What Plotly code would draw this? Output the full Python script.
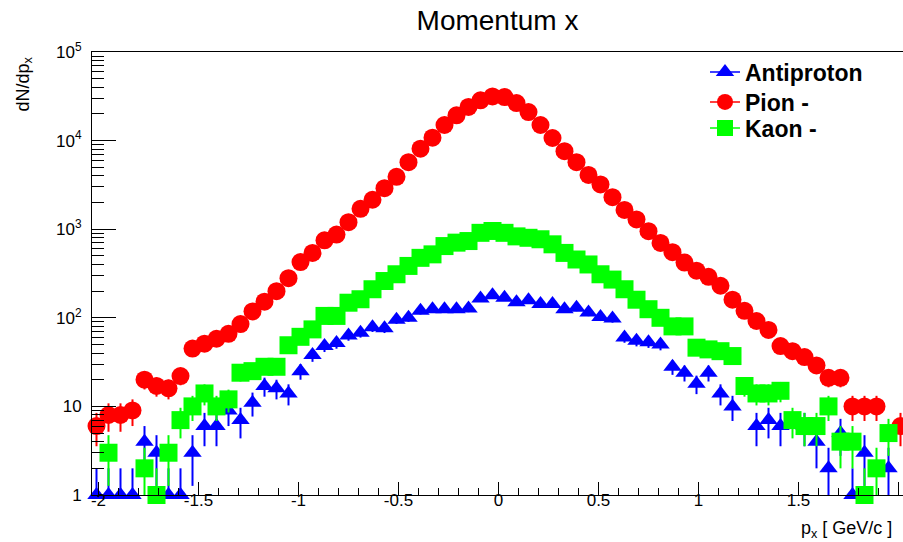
import numpy as np
import plotly.graph_objects as go

# Histogram binning (bin centres are derived from these)
bin_lo = -2.1
bin_width = 0.06
n_bins = 70

# Counts per bin (None = empty bin)
antiproton = [None, 1, 1, 1, 1, 4, 3, 1, 1, 3,
              6, 6, 9, 7, 11, 17, 16, 14, 25, 38,
              48, 52, 63, 68, 78, 76, 95, 100, 120, 125,
              125, 125, 127, 165, 180, 168, 150, 158, 143, 143,
              125, 130, 115, 102, 98, 60, 55, 53, 50, 28,
              24, 18, 24, 14, 10, None, 6, 7, 6, None,
              6, 4, 2, 5, 1, 3, None, 2, None, None]

pion_minus = [None, 6, 8, 8, 9, 20, 17, 16, 22, 45,
              51, 58, 66, 85, 118, 152, 200, 280, 425, 540,
              750, 870, 1200, 1700, 2150, 2900, 3900, 5700, 8100, 10800,
              15000, 19300, 24000, 28500, 31500, 31000, 26500, 21000, 15000, 10700,
              7600, 5700, 4100, 3200, 2300, 1650, 1290, 950, 700, 550,
              420, 340, 290, 230, 160, 120, 92, 73, 48, 42,
              36, 29, 21, 21, 10, 10, 10, None, 6, None]

kaon_minus = [None, None, 3, None, None, 2, 1, 3, 7, 10,
              14, 10, 12, 24, 25, 28, 28, 49, 61, 74,
              105, 105, 148, 162, 210, 260, 310, 385, 475, 520,
              645, 705, 735, 910, 955, 910, 830, 800, 770, 675,
              540, 455, 400, 310, 270, 210, 160, 125, 100, 80,
              80, 46, 44, 42, 37, 17, 14, 14, 15, 7,
              6, 6, 10, 4, 4, 1, 2, 5, None, None]

series_names = ["Antiproton", "Pion -", "Kaon -"]
series_colors = ["#0000FF", "#FF0000", "#00FF00"]
series_symbols = ["triangle-up", "circle", "square"]
series_sizes = [16, 18, 18]

x_tick_vals = [-2, -1.5, -1, -0.5, 0, 0.5, 1, 1.5, 2]
x_tick_text = ["-2", "-1.5", "-1", "-0.5", "0", "0.5", "1", "1.5", "2"]
y_tick_vals = [1, 10, 100, 1000, 10000, 100000]
y_tick_text = ["1", "10", "10<sup>2</sup>", "10<sup>3</sup>", "10<sup>4</sup>", "10<sup>5</sup>"]

centers = bin_lo + bin_width * (np.arange(n_bins) + 0.5)


def poisson_errors(vals):
    up, lo = [], []
    for v in vals:
        if v is None:
            up.append(None)
            lo.append(None)
        else:
            s = float(np.sqrt(v))
            up.append(s)
            lo.append(v - max(v - s, 1.0))
    return up, lo


fig = go.Figure()
all_series = [antiproton, pion_minus, kaon_minus]
legend_ids = ["legend", "legend2", "legend3"]

for vals, name, col, sym, sz in zip(all_series, series_names, series_colors,
                                     series_symbols, series_sizes):
    up, lo = poisson_errors(vals)
    fig.add_trace(go.Scatter(
        x=centers, y=vals, mode="markers", name=name, showlegend=False,
        cliponaxis=False,
        marker=dict(symbol=sym, size=sz, color=col, line=dict(width=0)),
        error_y=dict(type="data", array=up, arrayminus=lo, symmetric=False,
                     color=col, thickness=2, width=0),
        hoverinfo="skip",
    ))

# legend-only entries (marker with line, ROOT "lp" style)
for name, col, sym, sz, lid in zip(series_names, series_colors, series_symbols,
                                   series_sizes, legend_ids):
    fig.add_trace(go.Scatter(
        x=[None], y=[None], mode="lines+markers", name=name, legend=lid,
        line=dict(color=col, width=1.5),
        marker=dict(symbol=sym, size=sz, color=col, line=dict(width=0)),
    ))

W, H = 903, 542
L, R, T, B = 92, 0, 52, 47
pw, ph = W - L - R, H - T - B


def px_x(p):
    return (p - L) / pw


def px_y(p):
    return (H - B - p) / ph


legend_common = dict(xanchor="left", yanchor="middle", bgcolor="rgba(0,0,0,0)",
                     borderwidth=0,
                     font=dict(family="Liberation Sans", size=23, color="black",
                               weight="bold"))

fig.update_layout(
    width=W, height=H,
    margin=dict(l=L, r=R, t=T, b=B, pad=0),
    paper_bgcolor="white", plot_bgcolor="white",
    font=dict(family="Liberation Sans", color="black"),
    title=dict(text="Momentum x", x=0.5, xref="paper", xanchor="center",
               y=1 - 20 / H, yref="container", yanchor="middle",
               font=dict(size=28, family="Liberation Sans", color="black")),
    xaxis=dict(range=[(L - 498.5) / 200, (W - 498.5) / 200],
               tickmode="array", tickvals=x_tick_vals, ticktext=x_tick_text,
               ticks="inside", ticklen=13, tickwidth=1, tickcolor="black",
               showline=True, linecolor="black", linewidth=1, mirror=True,
               showgrid=False, zeroline=False,
               tickfont=dict(size=17, family="Liberation Sans", color="black"),
               ticklabelstandoff=-10,
               minor=dict(tickmode="linear", tick0=0, dtick=0.1, ticks="inside",
                          ticklen=7, tickwidth=1, tickcolor="black", showgrid=False)),
    yaxis=dict(type="log", range=[0, 5],
               tickmode="array", tickvals=y_tick_vals, ticktext=y_tick_text,
               ticks="inside", ticklen=24, tickwidth=1, tickcolor="black",
               showline=True, linecolor="black", linewidth=1, mirror=True,
               showgrid=False, zeroline=False,
               tickfont=dict(size=17, family="Liberation Sans", color="black"),
               ticklabelstandoff=6,
               minor=dict(dtick="D1", ticks="inside", ticklen=12, tickwidth=1,
                          tickcolor="black", showgrid=False)),
    legend=dict(x=px_x(705), y=px_y(72), **legend_common),
    legend2=dict(x=px_x(705), y=px_y(102), **legend_common),
    legend3=dict(x=px_x(705), y=px_y(128), **legend_common),
    annotations=[
        dict(text="dN/dp<sub>x</sub>", textangle=-90, xref="paper", yref="paper",
             x=px_x(24), y=px_y(55), xanchor="center", yanchor="top",
             showarrow=False, font=dict(size=18, family="Liberation Sans", color="black")),
        dict(text="p<sub>x</sub> [ GeV/c ]", xref="paper", yref="paper",
             x=px_x(894), y=px_y(529), xanchor="right", yanchor="middle",
             showarrow=False, font=dict(size=18, family="Liberation Sans", color="black")),
    ],
)

fig.write_html("out.html", config={"displayModeBar": False},
               post_script="document.body.style.margin='0';document.body.style.overflow='hidden';")
